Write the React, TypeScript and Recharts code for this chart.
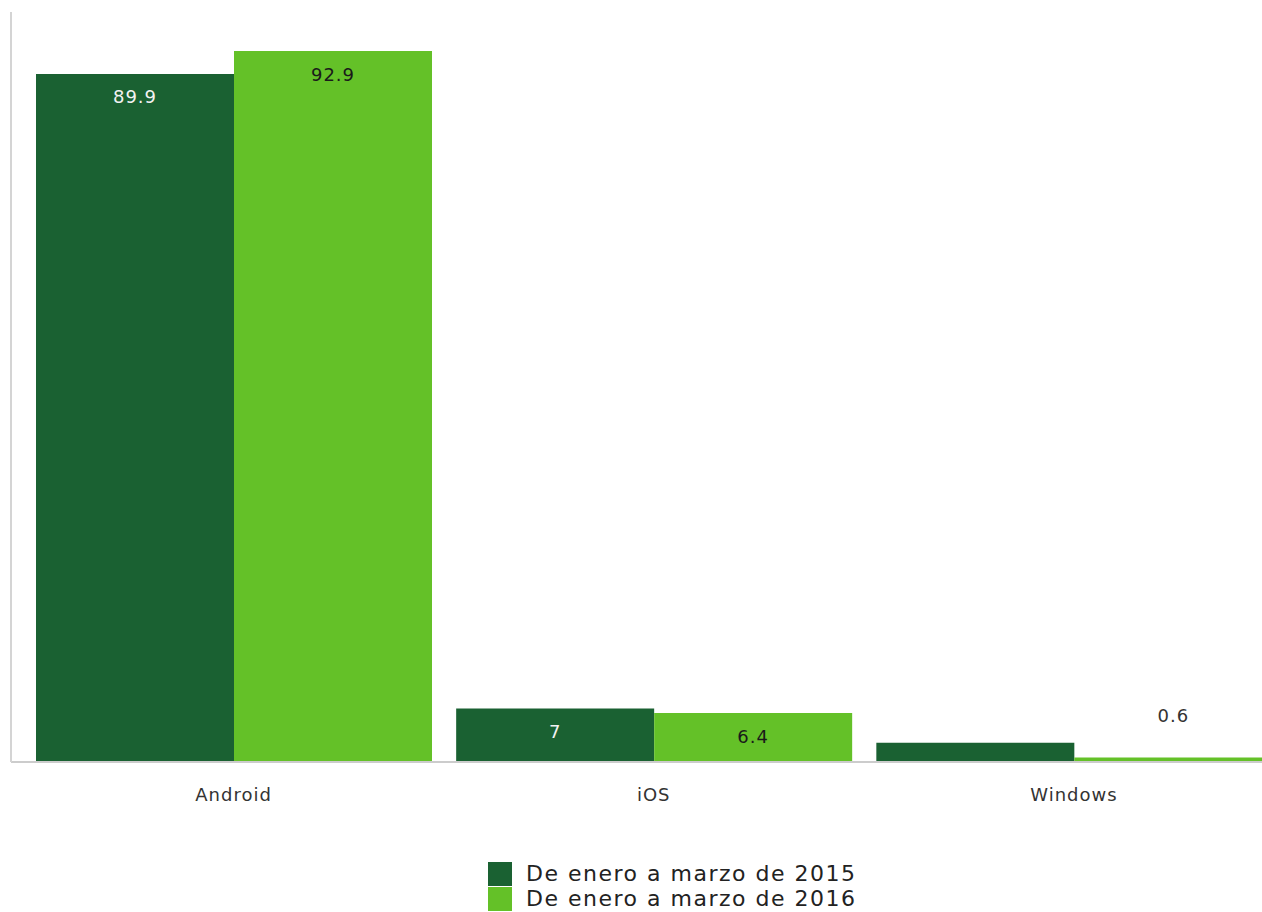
import { BarChart, Bar, XAxis, YAxis, LabelList } from 'recharts'

const categories = ['Android', 'iOS', 'Windows']
const q1_2015 = [89.9, 7, 2.5]
const q1_2016 = [92.9, 6.4, 0.6]
const seriesNames = ['De enero a marzo de 2015', 'De enero a marzo de 2016']
const seriesColors = ['#1a6132', '#64c128']

const data = categories.map((name, i) => ({
  name,
  s2015: q1_2015[i],
  s2016: q1_2016[i],
}))

const FONT = "'DejaVu Sans', Verdana, sans-serif"

// label drawn inside the top of the bar; small bars either hide it or put it above
function makeLabel(color: string, hideWhenSmall: boolean) {
  return function BarLabel(props: any) {
    const { x, y, width, height, value } = props
    const cx = Number(x) + Number(width) / 2
    const h = Number(height)
    if (h < 25) {
      if (hideWhenSmall) return null
      return (
        <text x={cx} y={Number(y) - 42} textAnchor="middle" dominantBaseline="central"
          fill="#333" fontSize={18} fontFamily={FONT} letterSpacing={1}>
          {value}
        </text>
      )
    }
    return (
      <text x={cx} y={Number(y) + 23} textAnchor="middle" dominantBaseline="central"
        fill={color} fontSize={18} fontFamily={FONT} letterSpacing={1}>
        {value}
      </text>
    )
  }
}

export default function App() {
  return (
    <div style={{ position: 'fixed', left: 0, top: 0, width: 1262, height: 912, overflow: 'hidden', background: '#fff' }}>
      <BarChart
        width={1284}
        height={912}
        data={data}
        margin={{ top: 12, right: 0, bottom: 110, left: 0 }}
        barCategoryGap={12.5}
        barGap={0}
      >
        <XAxis
          dataKey="name"
          height={40}
          padding={{ left: 12.5, right: 0 }}
          axisLine={{ stroke: '#cccccc', strokeWidth: 2 }}
          tickLine={false}
          tickSize={0}
          tickMargin={26}
          tick={{ fill: '#333', fontSize: 18, fontFamily: FONT, letterSpacing: 1 }}
        />
        <YAxis
          width={11}
          domain={[0, 98]}
          tick={false}
          tickLine={false}
          axisLine={{ stroke: '#d4d4d4', strokeWidth: 2 }}
        />
        <Bar dataKey="s2015" name={seriesNames[0]} fill={seriesColors[0]} isAnimationActive={false}>
          <LabelList dataKey="s2015" content={makeLabel('#f2f2f2', true)} />
        </Bar>
        <Bar dataKey="s2016" name={seriesNames[1]} fill={seriesColors[1]} isAnimationActive={false}>
          <LabelList dataKey="s2016" content={makeLabel('#1a1a1a', false)} />
        </Bar>
      </BarChart>
      <div style={{ position: 'absolute', left: 488, top: 861, fontFamily: FONT, fontSize: 22, letterSpacing: 1.5, color: '#222', lineHeight: '25px' }}>
        {seriesNames.map((n, i) => (
          <div key={n} style={{ display: 'flex', alignItems: 'center', height: 25 }}>
            <span style={{ display: 'inline-block', width: 24, height: 24, background: seriesColors[i], marginRight: 14 }} />
            <span>{n}</span>
          </div>
        ))}
      </div>
    </div>
  )
}
